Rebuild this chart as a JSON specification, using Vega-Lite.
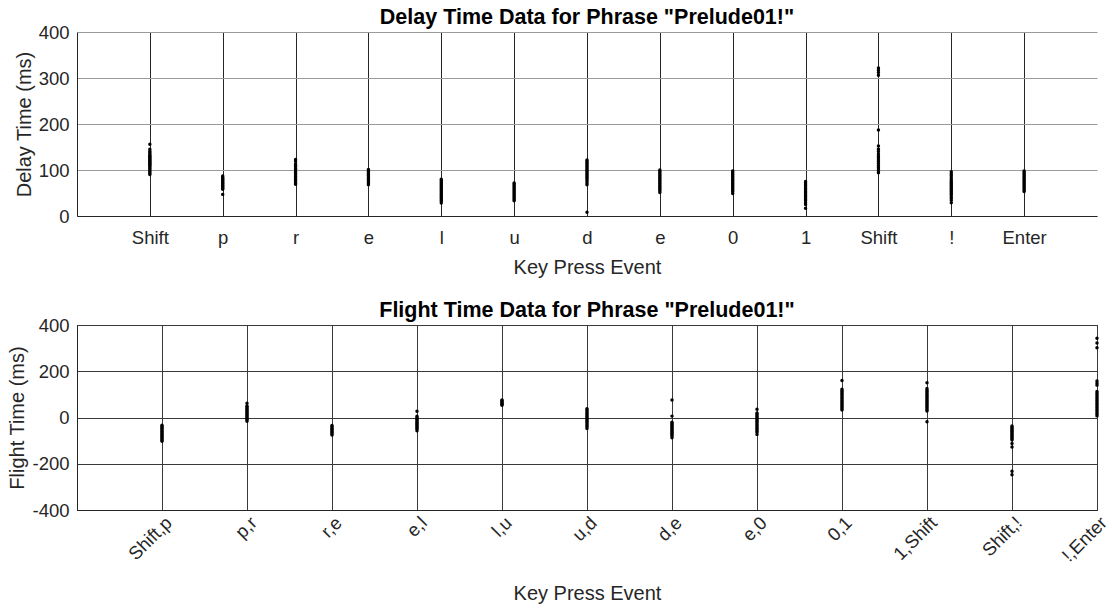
{
  "$schema": "https://vega.github.io/schema/vega-lite/v6.json",
  "padding": {"left": 7, "top": 6, "right": 15, "bottom": 0},
  "spacing": 21,
  "config": {
    "font": "Liberation Sans",
    "view": {"stroke": null},
    "axis": {
      "labelFont": "Liberation Sans",
      "labelFontSize": 18.5,
      "labelColor": "#262626",
      "titleFont": "Liberation Sans",
      "titleFontSize": 20,
      "titleFontWeight": "normal",
      "titleColor": "#262626",
      "domainColor": "#262626",
      "domainWidth": 1,
      "ticks": false,
      "gridWidth": 1
    },
    "title": {"font": "Liberation Sans", "fontSize": 21.5, "fontWeight": "bold", "color": "#000000", "anchor": "middle", "offset": -5}
  },
  "datasets": {
    "delay": [
      {"k":1,"v":156},{"k":1,"v":145},{"k":1,"v":141},{"k":1,"v":138},{"k":1,"v":135},{"k":1,"v":132},{"k":1,"v":130},{"k":1,"v":128},{"k":1,"v":126},{"k":1,"v":124},{"k":1,"v":122},{"k":1,"v":120},{"k":1,"v":118},{"k":1,"v":116},{"k":1,"v":114},{"k":1,"v":112},{"k":1,"v":110},{"k":1,"v":108},{"k":1,"v":105},{"k":1,"v":102},{"k":1,"v":99},{"k":1,"v":96},{"k":1,"v":93},{"k":1,"v":90},
      {"k":2,"v":87},{"k":2,"v":84},{"k":2,"v":82},{"k":2,"v":80},{"k":2,"v":78},{"k":2,"v":76},{"k":2,"v":74},{"k":2,"v":72},{"k":2,"v":70},{"k":2,"v":68},{"k":2,"v":66},{"k":2,"v":64},{"k":2,"v":62},{"k":2,"v":60},{"k":2,"v":58},{"k":2,"v":47},
      {"k":3,"v":123},{"k":3,"v":119},{"k":3,"v":113},{"k":3,"v":110},{"k":3,"v":107},{"k":3,"v":104},{"k":3,"v":101},{"k":3,"v":98},{"k":3,"v":95},{"k":3,"v":92},{"k":3,"v":89},{"k":3,"v":86},{"k":3,"v":83},{"k":3,"v":80},{"k":3,"v":77},{"k":3,"v":74},{"k":3,"v":71},{"k":3,"v":69},
      {"k":4,"v":101},{"k":4,"v":98},{"k":4,"v":96},{"k":4,"v":93},{"k":4,"v":90},{"k":4,"v":88},{"k":4,"v":85},{"k":4,"v":82},{"k":4,"v":80},{"k":4,"v":77},{"k":4,"v":74},{"k":4,"v":71},{"k":4,"v":68},
      {"k":5,"v":80},{"k":5,"v":77},{"k":5,"v":74},{"k":5,"v":71},{"k":5,"v":68},{"k":5,"v":65},{"k":5,"v":62},{"k":5,"v":59},{"k":5,"v":56},{"k":5,"v":53},{"k":5,"v":50},{"k":5,"v":47},{"k":5,"v":44},{"k":5,"v":41},{"k":5,"v":38},{"k":5,"v":35},{"k":5,"v":32},{"k":5,"v":28},
      {"k":6,"v":72},{"k":6,"v":69},{"k":6,"v":66},{"k":6,"v":63},{"k":6,"v":60},{"k":6,"v":57},{"k":6,"v":54},{"k":6,"v":51},{"k":6,"v":48},{"k":6,"v":45},{"k":6,"v":42},{"k":6,"v":39},{"k":6,"v":36},{"k":6,"v":33},
      {"k":7,"v":122},{"k":7,"v":119},{"k":7,"v":116},{"k":7,"v":113},{"k":7,"v":110},{"k":7,"v":107},{"k":7,"v":104},{"k":7,"v":101},{"k":7,"v":98},{"k":7,"v":95},{"k":7,"v":92},{"k":7,"v":89},{"k":7,"v":86},{"k":7,"v":83},{"k":7,"v":80},{"k":7,"v":76},{"k":7,"v":72},{"k":7,"v":68},{"k":7,"v":8},
      {"k":8,"v":100},{"k":8,"v":97},{"k":8,"v":94},{"k":8,"v":91},{"k":8,"v":88},{"k":8,"v":85},{"k":8,"v":82},{"k":8,"v":79},{"k":8,"v":76},{"k":8,"v":73},{"k":8,"v":70},{"k":8,"v":67},{"k":8,"v":64},{"k":8,"v":61},{"k":8,"v":58},{"k":8,"v":55},{"k":8,"v":51},
      {"k":9,"v":98},{"k":9,"v":95},{"k":9,"v":92},{"k":9,"v":89},{"k":9,"v":86},{"k":9,"v":83},{"k":9,"v":80},{"k":9,"v":77},{"k":9,"v":74},{"k":9,"v":71},{"k":9,"v":68},{"k":9,"v":65},{"k":9,"v":62},{"k":9,"v":59},{"k":9,"v":56},{"k":9,"v":53},{"k":9,"v":49},
      {"k":10,"v":75},{"k":10,"v":72},{"k":10,"v":69},{"k":10,"v":66},{"k":10,"v":63},{"k":10,"v":60},{"k":10,"v":57},{"k":10,"v":54},{"k":10,"v":51},{"k":10,"v":48},{"k":10,"v":45},{"k":10,"v":42},{"k":10,"v":39},{"k":10,"v":36},{"k":10,"v":33},{"k":10,"v":29},{"k":10,"v":25},{"k":10,"v":17},
      {"k":11,"v":322},{"k":11,"v":317},{"k":11,"v":312},{"k":11,"v":306},{"k":11,"v":187},{"k":11,"v":152},{"k":11,"v":145},{"k":11,"v":140},{"k":11,"v":135},{"k":11,"v":130},{"k":11,"v":126},{"k":11,"v":122},{"k":11,"v":118},{"k":11,"v":114},{"k":11,"v":110},{"k":11,"v":106},{"k":11,"v":102},{"k":11,"v":98},{"k":11,"v":94},
      {"k":12,"v":96},{"k":12,"v":92},{"k":12,"v":88},{"k":12,"v":84},{"k":12,"v":80},{"k":12,"v":76},{"k":12,"v":73},{"k":12,"v":70},{"k":12,"v":67},{"k":12,"v":64},{"k":12,"v":61},{"k":12,"v":58},{"k":12,"v":55},{"k":12,"v":52},{"k":12,"v":49},{"k":12,"v":46},{"k":12,"v":42},{"k":12,"v":38},{"k":12,"v":34},{"k":12,"v":29},
      {"k":13,"v":98},{"k":13,"v":95},{"k":13,"v":92},{"k":13,"v":89},{"k":13,"v":86},{"k":13,"v":83},{"k":13,"v":80},{"k":13,"v":77},{"k":13,"v":74},{"k":13,"v":71},{"k":13,"v":68},{"k":13,"v":65},{"k":13,"v":62},{"k":13,"v":59},{"k":13,"v":56},{"k":13,"v":53}
    ],
    "flight": [
      {"k":1,"v":-33},{"k":1,"v":-38},{"k":1,"v":-43},{"k":1,"v":-48},{"k":1,"v":-53},{"k":1,"v":-58},{"k":1,"v":-63},{"k":1,"v":-68},{"k":1,"v":-73},{"k":1,"v":-78},{"k":1,"v":-83},{"k":1,"v":-88},{"k":1,"v":-93},{"k":1,"v":-98},{"k":1,"v":-103},
      {"k":2,"v":62},{"k":2,"v":50},{"k":2,"v":45},{"k":2,"v":40},{"k":2,"v":35},{"k":2,"v":30},{"k":2,"v":25},{"k":2,"v":20},{"k":2,"v":15},{"k":2,"v":10},{"k":2,"v":5},{"k":2,"v":0},{"k":2,"v":-5},{"k":2,"v":-10},{"k":2,"v":-16},
      {"k":3,"v":-35},{"k":3,"v":-40},{"k":3,"v":-45},{"k":3,"v":-50},{"k":3,"v":-55},{"k":3,"v":-60},{"k":3,"v":-65},{"k":3,"v":-70},{"k":3,"v":-76},
      {"k":4,"v":27},{"k":4,"v":5},{"k":4,"v":0},{"k":4,"v":-5},{"k":4,"v":-10},{"k":4,"v":-15},{"k":4,"v":-20},{"k":4,"v":-25},{"k":4,"v":-30},{"k":4,"v":-35},{"k":4,"v":-40},{"k":4,"v":-45},{"k":4,"v":-50},{"k":4,"v":-57},
      {"k":5,"v":76},{"k":5,"v":72},{"k":5,"v":68},{"k":5,"v":64},{"k":5,"v":60},{"k":5,"v":56},{"k":5,"v":53},
      {"k":6,"v":38},{"k":6,"v":32},{"k":6,"v":26},{"k":6,"v":20},{"k":6,"v":14},{"k":6,"v":8},{"k":6,"v":2},{"k":6,"v":-4},{"k":6,"v":-10},{"k":6,"v":-16},{"k":6,"v":-22},{"k":6,"v":-28},{"k":6,"v":-34},{"k":6,"v":-40},{"k":6,"v":-48},
      {"k":7,"v":76},{"k":7,"v":6},{"k":7,"v":-20},{"k":7,"v":-25},{"k":7,"v":-30},{"k":7,"v":-35},{"k":7,"v":-40},{"k":7,"v":-45},{"k":7,"v":-50},{"k":7,"v":-55},{"k":7,"v":-60},{"k":7,"v":-65},{"k":7,"v":-70},{"k":7,"v":-75},{"k":7,"v":-80},{"k":7,"v":-88},
      {"k":8,"v":36},{"k":8,"v":20},{"k":8,"v":14},{"k":8,"v":8},{"k":8,"v":2},{"k":8,"v":-4},{"k":8,"v":-10},{"k":8,"v":-16},{"k":8,"v":-22},{"k":8,"v":-28},{"k":8,"v":-34},{"k":8,"v":-40},{"k":8,"v":-46},{"k":8,"v":-52},{"k":8,"v":-58},{"k":8,"v":-64},{"k":8,"v":-73},
      {"k":9,"v":160},{"k":9,"v":122},{"k":9,"v":116},{"k":9,"v":110},{"k":9,"v":104},{"k":9,"v":98},{"k":9,"v":92},{"k":9,"v":86},{"k":9,"v":80},{"k":9,"v":74},{"k":9,"v":68},{"k":9,"v":62},{"k":9,"v":56},{"k":9,"v":50},{"k":9,"v":44},{"k":9,"v":38},{"k":9,"v":32},
      {"k":10,"v":150},{"k":10,"v":125},{"k":10,"v":118},{"k":10,"v":112},{"k":10,"v":106},{"k":10,"v":100},{"k":10,"v":94},{"k":10,"v":88},{"k":10,"v":82},{"k":10,"v":76},{"k":10,"v":70},{"k":10,"v":64},{"k":10,"v":58},{"k":10,"v":52},{"k":10,"v":46},{"k":10,"v":40},{"k":10,"v":34},{"k":10,"v":28},{"k":10,"v":-18},
      {"k":11,"v":-37},{"k":11,"v":-42},{"k":11,"v":-47},{"k":11,"v":-52},{"k":11,"v":-57},{"k":11,"v":-62},{"k":11,"v":-67},{"k":11,"v":-72},{"k":11,"v":-77},{"k":11,"v":-82},{"k":11,"v":-87},{"k":11,"v":-92},{"k":11,"v":-97},{"k":11,"v":-112},{"k":11,"v":-128},{"k":11,"v":-232},{"k":11,"v":-248},
      {"k":12,"v":343},{"k":12,"v":322},{"k":12,"v":302},{"k":12,"v":158},{"k":12,"v":148},{"k":12,"v":140},{"k":12,"v":112},{"k":12,"v":105},{"k":12,"v":98},{"k":12,"v":91},{"k":12,"v":84},{"k":12,"v":77},{"k":12,"v":70},{"k":12,"v":63},{"k":12,"v":56},{"k":12,"v":49},{"k":12,"v":42},{"k":12,"v":35},{"k":12,"v":28},{"k":12,"v":21},{"k":12,"v":14},{"k":12,"v":7}
    ]
  },
  "vconcat": [
    {
      "width": 1020,
      "height": 184,
      "title": "Delay Time Data for Phrase \"Prelude01!\"",
      "data": {"name": "delay"},
      "mark": {"type": "point", "filled": true, "shape": "circle", "size": 12, "color": "#000000", "opacity": 1},
      "encoding": {
        "x": {
          "field": "k", "type": "quantitative",
          "scale": {"domain": [0, 14], "nice": false, "zero": false},
          "axis": {
            "title": "Key Press Event",
            "values": [1,2,3,4,5,6,7,8,9,10,11,12,13],
            "labelExpr": "['Shift','p','r','e','l','u','d','e','0','1','Shift','!','Enter'][datum.value - 1]",
            "labelPadding": 12,
            "labelAngle": 0,
            "titlePadding": 11,
            "gridColor": "#262626",
            "gridOpacity": 1
          }
        },
        "y": {
          "field": "v", "type": "quantitative",
          "scale": {"domain": [0, 400], "nice": false},
          "axis": {
            "title": "Delay Time (ms)",
            "values": [0, 100, 200, 300, 400],
            "labelExpr": "'' + datum.value",
            "labelPadding": 8,
            "titlePadding": 4,
            "gridColor": "#9a9a9a",
            "gridOpacity": 1
          }
        }
      }
    },
    {
      "width": 1020,
      "height": 185,
      "title": "Flight Time Data for Phrase \"Prelude01!\"",
      "data": {"name": "flight"},
      "view": {"stroke": "#262626", "strokeWidth": 1},
      "mark": {"type": "point", "filled": true, "shape": "circle", "size": 12, "color": "#000000", "opacity": 1},
      "encoding": {
        "x": {
          "field": "k", "type": "quantitative",
          "scale": {"domain": [0, 12], "nice": false, "zero": false},
          "axis": {
            "title": "Key Press Event",
            "values": [1,2,3,4,5,6,7,8,9,10,11,12],
            "labelExpr": "['Shift,p','p,r','r,e','e,l','l,u','u,d','d,e','e,0','0,1','1,Shift','Shift,!','!,Enter'][datum.value - 1]",
            "labelAngle": -45,
            "labelAlign": "right",
            "labelBaseline": "top",
            "labelPadding": 3,
            "titlePadding": 19,
            "gridColor": "#3a3a3a",
            "gridOpacity": 1
          }
        },
        "y": {
          "field": "v", "type": "quantitative",
          "scale": {"domain": [-400, 400], "nice": false},
          "axis": {
            "title": "Flight Time (ms)",
            "values": [-400, -200, 0, 200, 400],
            "labelExpr": "'' + datum.value",
            "labelPadding": 8,
            "titlePadding": 4,
            "gridColor": "#3a3a3a",
            "gridOpacity": 1
          }
        }
      }
    }
  ]
}
